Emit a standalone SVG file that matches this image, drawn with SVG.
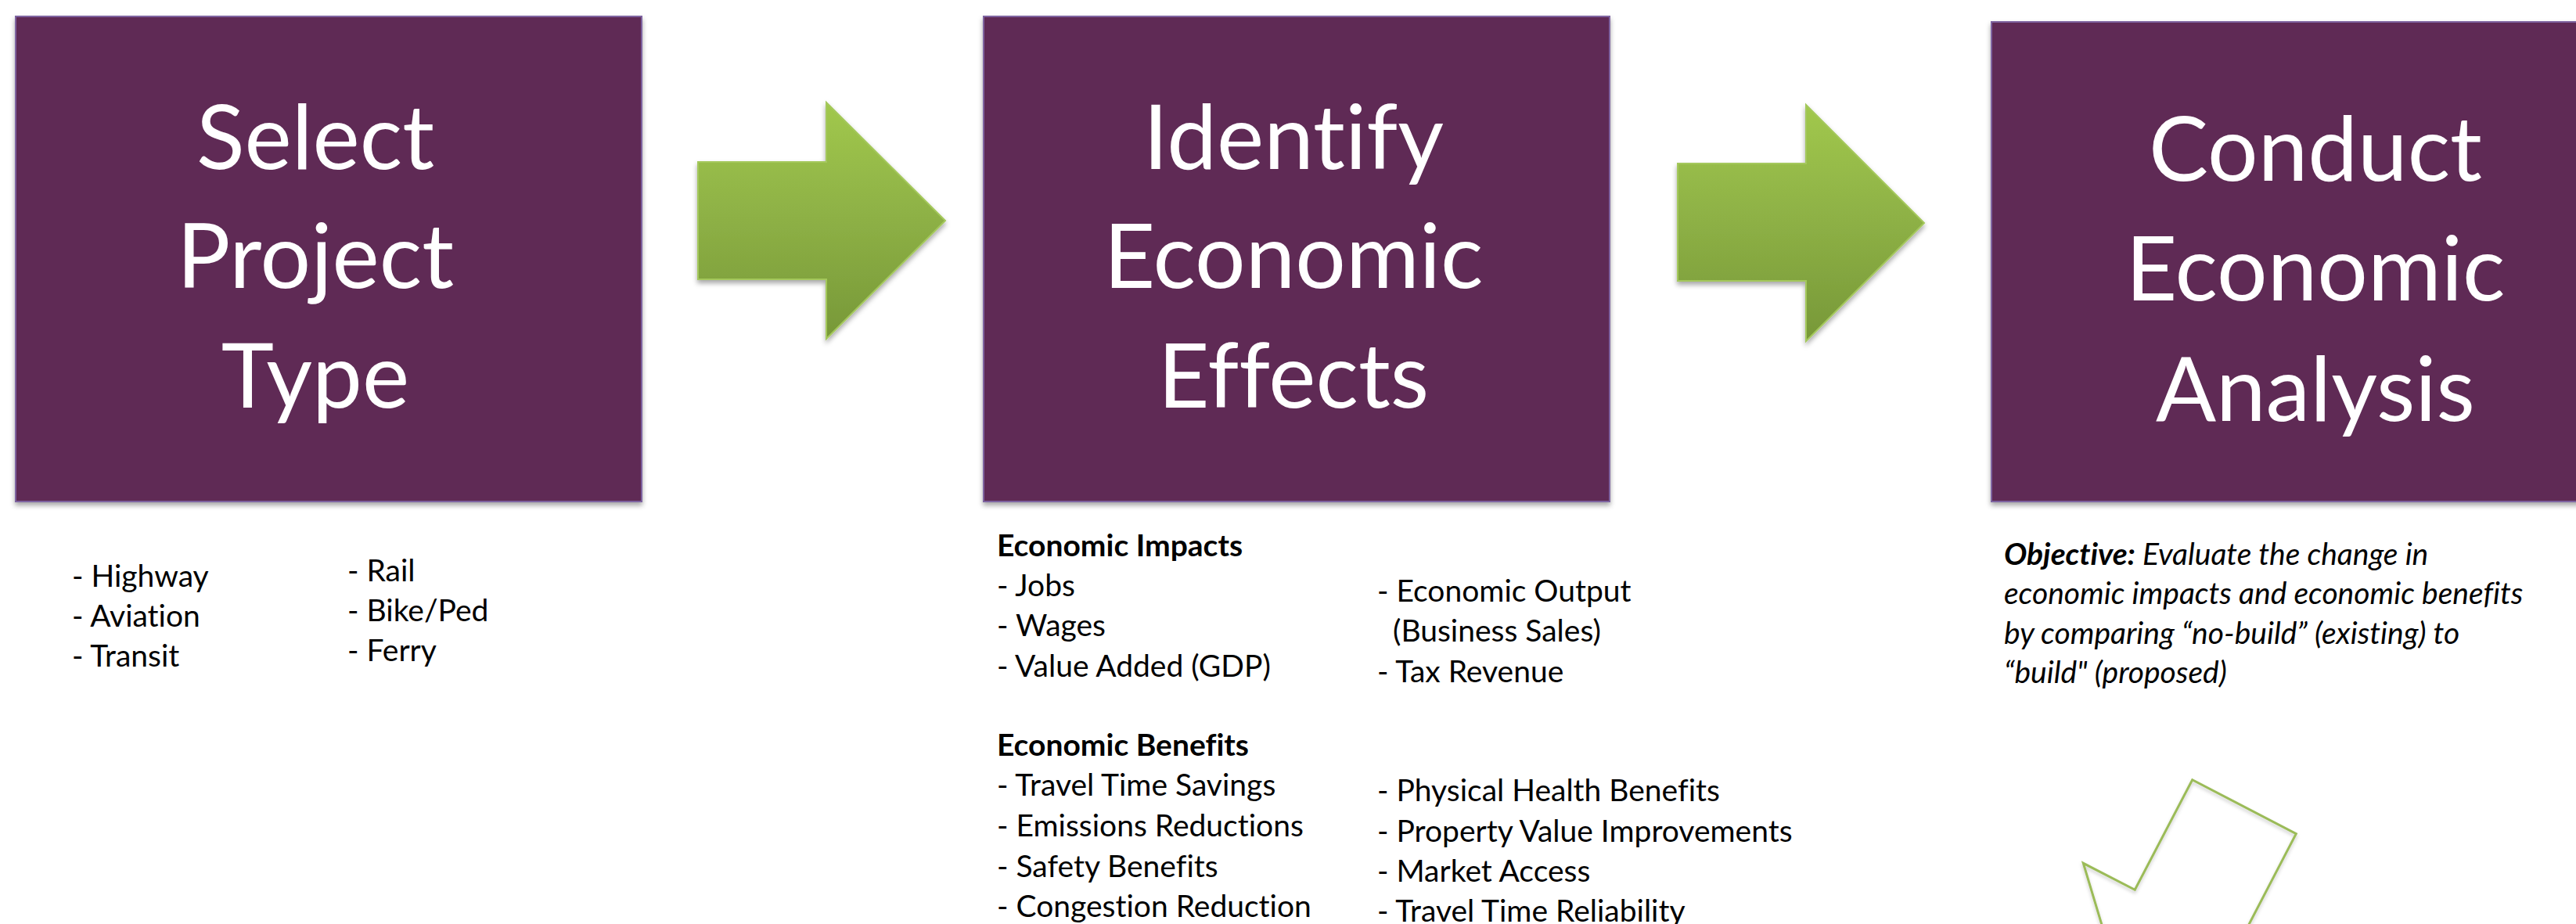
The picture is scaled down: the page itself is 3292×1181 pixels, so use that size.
<svg xmlns="http://www.w3.org/2000/svg" width="3292" height="1181" viewBox="0 0 3292 1181">
  <style>
    text { font-variant-ligatures: none; font-feature-settings: "liga" 0, "clig" 0, "dlig" 0; }
    .box { fill: #5E2B55; stroke: #7E64A0; stroke-width: 2; }
    .title { font-family: Lato, "Liberation Sans", sans-serif; font-size: 114px; fill: #FFFFFF; text-anchor: middle; }
    .body { font-family: Lato, "Liberation Sans", sans-serif; font-size: 39px; fill: #000000; }
    .bold { font-weight: bold; }
    .it { font-style: italic; }
    .arrow { fill: url(#greenGrad); stroke: #A4C85C; stroke-width: 2; }
    .outline { fill: none; stroke: #9BBB59; stroke-width: 3; stroke-linejoin: miter; }
  </style>
  <defs>
    <linearGradient id="greenGrad" x1="0" y1="0" x2="0" y2="1">
      <stop offset="0" stop-color="#A1C84D"/>
      <stop offset="0.5" stop-color="#8DB045"/>
      <stop offset="1" stop-color="#779838"/>
    </linearGradient>
    <filter id="shadow" x="-10%" y="-10%" width="120%" height="125%">
      <feDropShadow dx="0" dy="4" stdDeviation="3" flood-color="#000000" flood-opacity="0.35"/>
    </filter>
    <filter id="lightShadow" x="-10%" y="-10%" width="120%" height="125%">
      <feDropShadow dx="0" dy="3" stdDeviation="2" flood-color="#000000" flood-opacity="0.2"/>
    </filter>
  </defs>
  <rect width="3292" height="1181" fill="#FFFFFF"/>

  <g id="connectors">
    <polygon class="arrow" filter="url(#shadow)" points="892,207 1056,207 1056,131 1208,282 1056,433 1056,357 892,357"/>
    <polygon class="arrow" filter="url(#shadow)" points="2144,209 2308,209 2308,134 2459,285 2308,436 2308,359 2144,359"/>
    <path class="outline" filter="url(#lightShadow)" d="M2691.4,1200 L2662.3,1103.3 L2728.3,1137.3 L2801.7,996.7 L2934.3,1065.7 L2864.4,1200"/>
  </g>

  <g id="node-select-project-type">
    <rect class="box" filter="url(#shadow)" x="20" y="21" width="800" height="620"/>
    <text class="title" x="403" y="216">Select</text>
    <text class="title" x="403" y="368">Project</text>
    <text class="title" x="403" y="521">Type</text>
  </g>

  <g id="node-identify-economic-effects">
    <rect class="box" filter="url(#shadow)" x="1257" y="21" width="800" height="620"/>
    <text class="title" x="1653" y="216">Identify</text>
    <text class="title" x="1653" y="368">Economic</text>
    <text class="title" x="1653" y="521">Effects</text>
  </g>

  <g id="node-conduct-economic-analysis">
    <rect class="box" filter="url(#shadow)" x="2545" y="28" width="800" height="613"/>
    <text class="title" x="2959" y="231">Conduct</text>
    <text class="title" x="2959" y="384">Economic</text>
    <text class="title" x="2959" y="538">Analysis</text>
  </g>

  <g id="project-types">
    <text class="body" x="92" y="750">- Highway</text>
    <text class="body" x="92" y="801">- Aviation</text>
    <text class="body" x="92" y="852">- Transit</text>
    <text class="body" x="444" y="743">- Rail</text>
    <text class="body" x="444" y="794">- Bike/Ped</text>
    <text class="body" x="444" y="845">- Ferry</text>
  </g>

  <g id="economic-effects">
    <text class="body bold" x="1274" y="711">Economic Impacts</text>
    <text class="body" x="1274" y="762">- Jobs</text>
    <text class="body" x="1274" y="813">- Wages</text>
    <text class="body" x="1274" y="865">- Value Added (GDP)</text>
    <text class="body" x="1760" y="769">- Economic Output</text>
    <text class="body" x="1780" y="820">(Business Sales)</text>
    <text class="body" x="1760" y="872">- Tax Revenue</text>

    <text class="body bold" x="1274" y="966">Economic Benefits</text>
    <text class="body" x="1274" y="1017">- Travel Time Savings</text>
    <text class="body" x="1274" y="1069">- Emissions Reductions</text>
    <text class="body" x="1274" y="1121">- Safety Benefits</text>
    <text class="body" x="1274" y="1172">- Congestion Reduction</text>
    <text class="body" x="1760" y="1024">- Physical Health Benefits</text>
    <text class="body" x="1760" y="1076">- Property Value Improvements</text>
    <text class="body" x="1760" y="1127">- Market Access</text>
    <text class="body" x="1760" y="1178">- Travel Time Reliability</text>
  </g>

  <g id="objective">
    <text class="body it" x="2561" y="722"><tspan class="bold">Objective:</tspan> Evaluate the change in</text>
    <text class="body it" x="2561" y="772">economic impacts and economic benefits</text>
    <text class="body it" x="2561" y="823">by comparing “no-build” (existing) to</text>
    <text class="body it" x="2561" y="873">“build" (proposed)</text>
  </g>
</svg>
